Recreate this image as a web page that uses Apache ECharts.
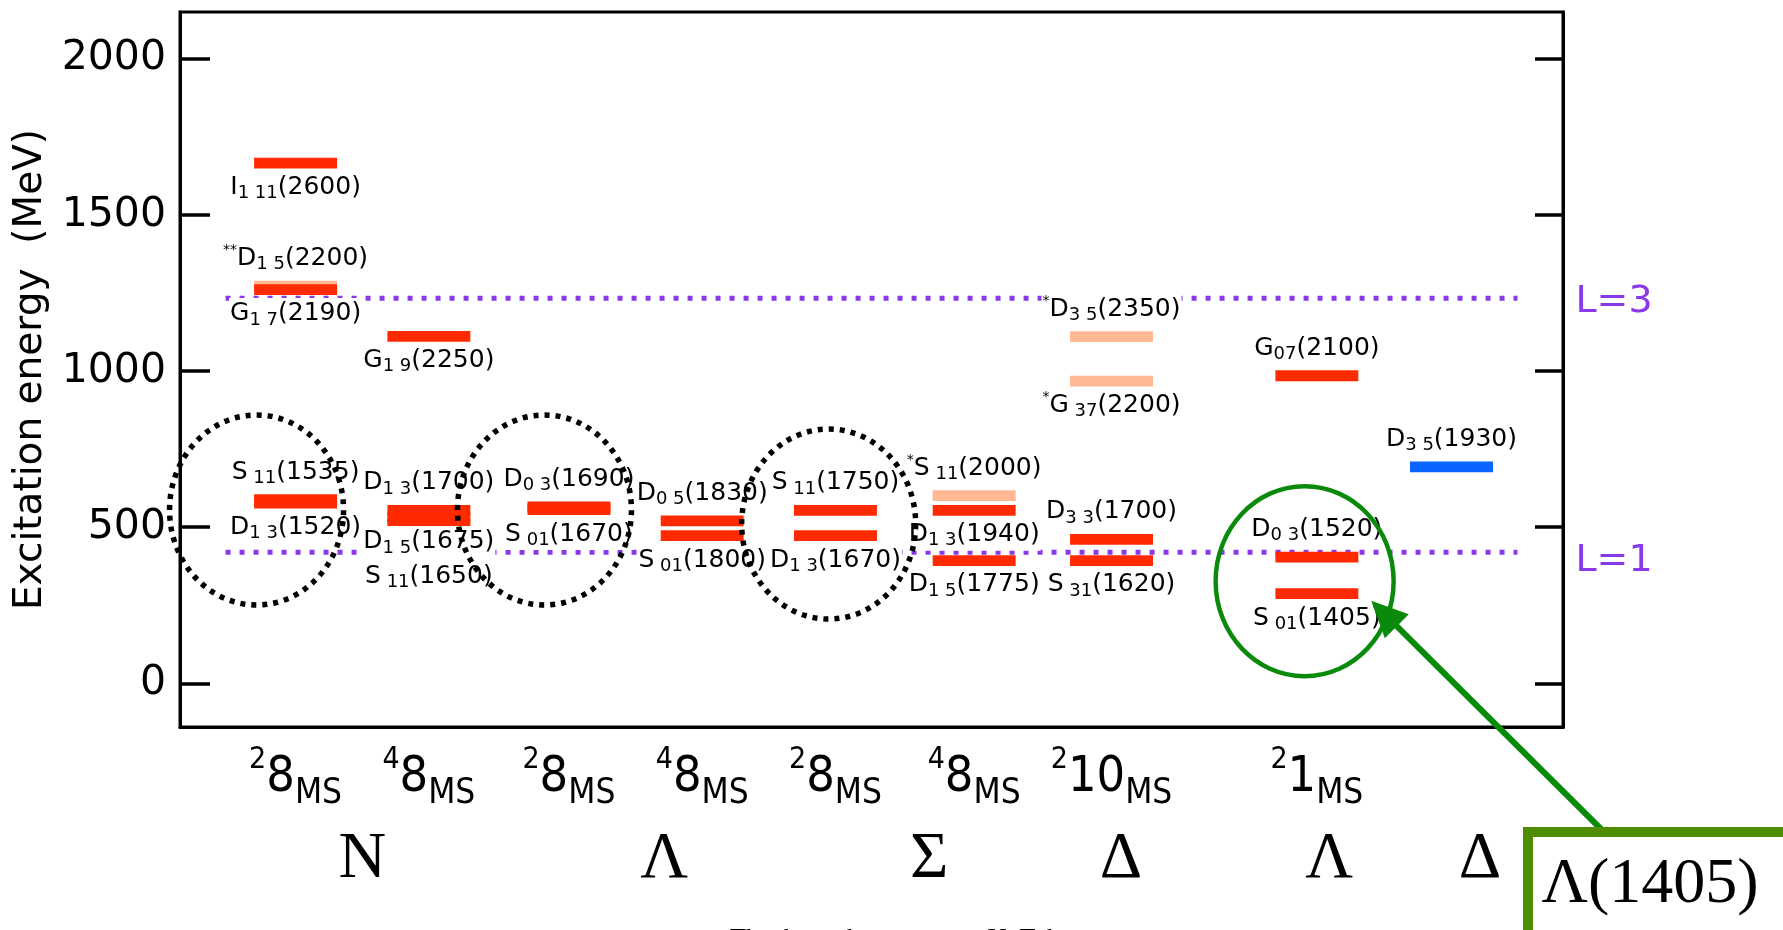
<!DOCTYPE html>
<html><head><meta charset="utf-8">
<script src="https://cdn.jsdelivr.net/npm/echarts@6/dist/echarts.min.js"></script>
<style>html,body{margin:0;padding:0;background:#fff}#c{width:1783px;height:930px}</style>
</head><body><div id="c"></div>
<script>
// ---- categories / multiplets ----
const columnX = [1, 1.98, 3.01, 3.99, 4.97, 5.99, 7, 8.51, 9.5];
const multipletSpin = ['2', '4', '2', '4', '2', '4', '2', '2'];
const multipletDim = ['8', '8', '8', '8', '8', '8', '10', '1'];
const flavours = ['N', 'Λ', 'Σ', 'Δ', 'Λ', 'Δ'];
const flavourX = [1.49, 3.71, 5.66, 7.07, 8.6, 9.71];
const yTicks = [0, 500, 1000, 1500, 2000];

// ---- levels (excitation energy, MeV) ----
const levelColumn = [0, 0, 0, 0, 0, 1, 1, 1, 1, 2, 2, 3, 3, 4, 4, 5, 5, 5, 6, 6, 6, 6, 7, 7, 7, 8];
const levelEnergy = [1666, 1272, 1261, 588, 577, 1111, 554, 531, 509, 565, 556, 520, 473, 554, 473, 601, 554, 393, 1110, 968, 461, 393, 985, 404, 287, 693];
const levelType = ['exp', 'weak', 'exp', 'exp', 'exp', 'exp', 'exp', 'exp', 'exp', 'exp', 'exp', 'exp', 'exp', 'exp', 'exp', 'weak', 'exp', 'exp', 'weak', 'weak', 'exp', 'exp', 'exp', 'exp', 'exp', 'delta'];
const levelStars = ['', '**', '', '', '', '', '', '', '', '', '', '', '', '', '', '*', '', '', '*', '*', '', '', '', '', '', ''];
const levelWave = ['I', 'D', 'G', 'S', 'D', 'G', 'D', 'D', 'S', 'D', 'S', 'D', 'S', 'S', 'D', 'S', 'D', 'D', 'D', 'G', 'D', 'S', 'G', 'D', 'S', 'D'];
const levelIndex = ['1 11', '1 5', '1 7', ' 11', '1 3', '1 9', '1 3', '1 5', ' 11', '0 3', ' 01', '0 5', ' 01', ' 11', '1 3', ' 11', '1 3', '1 5', '3 5', ' 37', '3 3', ' 31', '07', '0 3', ' 01', '3 5'];
const levelMass = ['2600', '2200', '2190', '1535', '1520', '2250', '1700', '1675', '1650', '1690', '1670', '1830', '1800', '1750', '1670', '2000', '1940', '1775', '2350', '2200', '1700', '1620', '2100', '1520', '1405', '1930'];
const labelSide = ['below', 'above', 'below', 'above', 'below', 'below', 'above', 'below', 'below', 'above', 'below', 'above', 'below', 'above', 'below', 'above', 'below', 'below', 'above', 'below', 'above', 'below', 'above', 'above', 'below', 'above'];
const labelRow = [0, 0, 0, 0, 0, 0, 0, 0, 1, 0, 0, 0, 0, 0, 0, 0, 0, 0, 0, 0, 0, 0, 0, 0, 0, 0];

// ---- orbital bands ----
const bandNames = ['L=3', 'L=1'];
const bandEnergy = [1233, 420];

// ---- annotations ----
const groupCircles = [[0.713, 555], [2.83, 555], [4.92, 510]];
const highlightCircle = [[8.42, 327]];
const arrowTarget = [8.91, 264];
const highlightText = 'Λ(1405)';

// ---- styles ----
const COLORS = { exp: '#ff2a00', weak: '#ffb894', delta: '#0a64ff' };
const BAR_HALF = 0.305, BAR_H = 10.8;
const GAP_ABOVE = 22, GAP_BELOW = 19, ROW_STEP = 28;
const SANS = '"DejaVu Sans", "Noto Sans", sans-serif';
const NARROW = '"DejaVu Sans Condensed", "Liberation Sans Narrow", "DejaVu Sans", sans-serif';
const SERIF = '"Liberation Serif", "DejaVu Serif", serif';

const levelData = levelEnergy.map((e, i) => [columnX[levelColumn[i]], e, i]);

function levelLabel(i) {
  let s = '';
  if (levelStars[i]) s += '{st|' + levelStars[i] + '}';
  s += '{w|' + levelWave[i] + '}{sb|' + levelIndex[i] + '}{w|(' + levelMass[i] + ')}';
  return s;
}
const labelRich = {
  w: { fontSize: 25, lineHeight: 30, fontFamily: SANS, color: '#000' },
  sb: { fontSize: 18, lineHeight: 18, verticalAlign: 'bottom', fontFamily: SANS, color: '#000' },
  st: { fontSize: 14, lineHeight: 14, verticalAlign: 'top', fontFamily: SANS, color: '#000' }
};

function nearest(arr, v) {
  let best = 0;
  arr.forEach((c, i) => { if (Math.abs(c - v) < Math.abs(arr[best] - v)) best = i; });
  return best;
}

const chart = echarts.init(document.getElementById('c'), null, { renderer: 'canvas' });

const option = {
  backgroundColor: '#fff',
  animation: false,
  grid: { left: 180, right: 220, top: 12, bottom: 203, outerBoundsMode: 'none', containLabel: false, show: true, borderColor: '#000', borderWidth: 3, backgroundColor: 'transparent' },
  xAxis: [
    {
      type: 'value', min: 0.15, max: 10.32, position: 'bottom',
      splitLine: { show: false },
      axisLine: { show: true, onZero: false, lineStyle: { color: '#000', width: 3 } },
      axisTick: { show: false },
      axisLabel: {
        customValues: columnX.slice(0, multipletDim.length),
        margin: 18,
        formatter: function (v) {
          const i = nearest(columnX, v);
          return '{sp|' + multipletSpin[i] + '}{big|' + multipletDim[i] + '}{sub|MS}';
        },
        rich: {
          sp: { fontSize: 30, lineHeight: 18, verticalAlign: 'top', fontFamily: NARROW, color: '#000' },
          big: { fontSize: 50, lineHeight: 66, fontFamily: NARROW, color: '#000' },
          sub: { fontSize: 35, lineHeight: 26, verticalAlign: 'bottom', fontFamily: NARROW, color: '#000' }
        }
      }
    },
    {
      type: 'value', min: 0.15, max: 10.32, position: 'bottom',
      splitLine: { show: false },
      axisLine: { show: false },
      axisTick: { show: false },
      axisLabel: {
        customValues: flavourX,
        margin: 100,
        fontSize: 66, lineHeight: 66, fontFamily: SERIF, color: '#000',
        formatter: function (v) { return flavours[nearest(flavourX, v)]; }
      }
    }
  ],
  yAxis: [
    {
      type: 'value', min: -140, max: 2150, position: 'left',
      name: 'Excitation energy  (MeV)', nameLocation: 'middle', nameGap: 116, nameRotate: 90,
      nameTextStyle: { fontSize: 39, fontFamily: SANS, color: '#000' },
      splitLine: { show: false },
      axisLine: { show: true, onZero: false, lineStyle: { color: '#000', width: 3 } },
      axisTick: { show: true, inside: true, length: 30, customValues: yTicks, lineStyle: { color: '#000', width: 3.5 } },
      axisLabel: { customValues: yTicks, fontSize: 41, margin: 14, fontFamily: SANS, color: '#000', formatter: function (v) { return String(v); } }
    },
    {
      type: 'value', min: -140, max: 2150, position: 'right',
      splitLine: { show: false },
      axisLine: { show: true, onZero: false, lineStyle: { color: '#000', width: 3 } },
      axisTick: { show: true, inside: true, length: 28, customValues: yTicks, lineStyle: { color: '#000', width: 3.5 } },
      axisLabel: { show: false }
    }
  ],
  series: [
    // orbital excitation bands (dotted)
    ...bandNames.map((name, k) => ({
      type: 'line', name: name, z: 2, xAxisIndex: 0, yAxisIndex: 0,
      data: [[0.485, bandEnergy[k]], [9.985, bandEnergy[k]]],
      symbol: 'none', silent: true,
      lineStyle: { color: '#8a38ea', width: 5, type: [5, 9], cap: 'butt' },
      endLabel: {
        show: true, formatter: name, distance: 58, offset: [0, k === 0 ? 4 : 9],
        fontSize: 38, fontFamily: SANS, color: '#8a38ea'
      }
    })),
    // energy levels
    {
      type: 'custom', z: 3, silent: true, xAxisIndex: 0, yAxisIndex: 0,
      data: levelData,
      renderItem: function (params, api) {
        const i = api.value(2);
        const a = api.coord([api.value(0) - BAR_HALF, api.value(1)]);
        const b = api.coord([api.value(0) + BAR_HALF, api.value(1)]);
        return { type: 'rect', shape: { x: a[0], y: a[1] - BAR_H / 2, width: b[0] - a[0], height: BAR_H }, style: { fill: COLORS[levelType[i]] } };
      }
    },
    // level labels
    {
      type: 'custom', z: 4, silent: true, xAxisIndex: 0, yAxisIndex: 0,
      data: levelData,
      renderItem: function (params, api) {
        const i = api.value(2);
        const c = api.coord([api.value(0), api.value(1)]);
        const dir = labelSide[i] === 'above' ? -1 : 1;
        const gap = dir < 0 ? GAP_ABOVE : GAP_BELOW;
        const y = c[1] + dir * (BAR_H / 2 + gap + labelRow[i] * ROW_STEP);
        return {
          type: 'text', x: c[0], y: y,
          style: { text: levelLabel(i), rich: labelRich, align: 'center', verticalAlign: 'middle', backgroundColor: '#fff', padding: [1, 1], fill: '#000', fontSize: 25, fontFamily: SANS }
        };
      }
    },
    // dotted group circles
    {
      type: 'custom', z: 5, silent: true, xAxisIndex: 0, yAxisIndex: 0,
      data: groupCircles,
      renderItem: function (params, api) {
        const c = api.coord([api.value(0), api.value(1)]);
        return { type: 'ellipse', shape: { cx: c[0], cy: c[1], rx: 87, ry: 95 }, style: { fill: 'none', stroke: '#000', lineWidth: 5.5, lineDash: [5, 6] } };
      }
    },
    // highlight ellipse
    {
      type: 'custom', z: 6, silent: true, xAxisIndex: 0, yAxisIndex: 0,
      data: highlightCircle,
      renderItem: function (params, api) {
        const c = api.coord([api.value(0), api.value(1)]);
        return { type: 'ellipse', shape: { cx: c[0], cy: c[1], rx: 89, ry: 95 }, style: { fill: 'none', stroke: '#0a8a0a', lineWidth: 4.5 } };
      }
    }
  ]
};
chart.setOption(option);

// arrow + callout box
const tip = chart.convertToPixel({ xAxisIndex: 0, yAxisIndex: 0 }, arrowTarget);
const tail = [1601, 829];
const dx = tip[0] - tail[0], dy = tip[1] - tail[1];
const len = Math.sqrt(dx * dx + dy * dy);
const ux = dx / len, uy = dy / len, nx = -uy, ny = ux;
const HEAD_L = 36, HEAD_W = 17;
const base = [tip[0] - ux * HEAD_L, tip[1] - uy * HEAD_L];
chart.setOption({
  graphic: [
    { type: 'line', z: 100, shape: { x1: tail[0], y1: tail[1], x2: base[0] + ux * 4, y2: base[1] + uy * 4 }, style: { stroke: '#0a8a0a', lineWidth: 6 } },
    { type: 'polygon', z: 101, shape: { points: [tip, [base[0] + nx * HEAD_W, base[1] + ny * HEAD_W], [base[0] - nx * HEAD_W, base[1] - ny * HEAD_W]] }, style: { fill: '#0a8a0a' } },
    { type: 'rect', z: 102, shape: { x: 1528, y: 832, width: 270, height: 110 }, style: { fill: '#fff', stroke: '#4f8c00', lineWidth: 10 } },
    { type: 'text', z: 103, x: 1650, y: 885, style: { text: highlightText, fontSize: 64, fontFamily: SERIF, fill: '#000', align: 'center', verticalAlign: 'middle' } },
    { type: 'text', z: 103, x: 730, y: 926, style: { text: 'Thanks to the support at U. Tokyo', fontSize: 26, fontFamily: SERIF, fill: '#000', align: 'left', verticalAlign: 'top' } }
  ]
});
</script>
</body></html>
